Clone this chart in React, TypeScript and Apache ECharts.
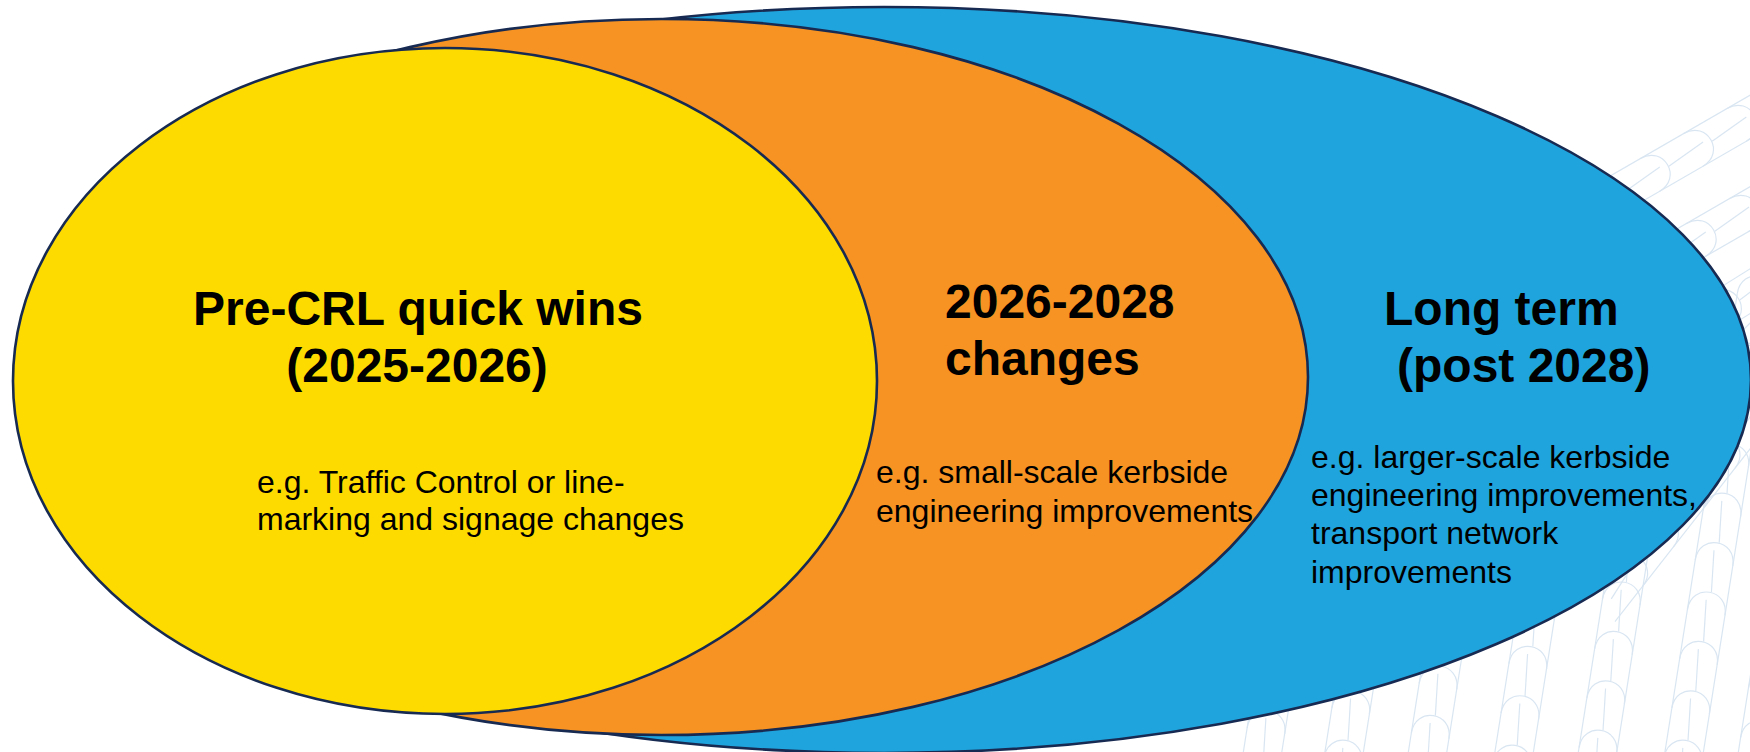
import React, { useEffect, useRef } from "react";
import * as echarts from "echarts";

// ---- content (back to front) ----
const stageIds = ["long", "mid", "quick"];
const stageTitles = [
  ["Long term", "(post 2028)"],
  ["2026-2028", "changes"],
  ["Pre-CRL quick wins", "(2025-2026)"],
];
const stageNotes = [
  ["e.g. larger-scale kerbside", "engineering improvements,", "transport network", "improvements"],
  ["e.g. small-scale kerbside", "engineering improvements"],
  ["e.g. Traffic Control or line-", "marking and signage changes"],
];

// ---- layout & style ----
const W = 1750;
const H = 752;
const ellipseLayout = [
  { cx: 884, cy: 380, rx: 867, ry: 373 },
  { cx: 661.5, cy: 377, rx: 646.5, ry: 358 },
  { cx: 445, cy: 381, rx: 432, ry: 333 },
];
const titleLayout = [
  { align: "left", xs: [1384, 1397], baselines: [325, 382] },
  { align: "left", xs: [945, 945], baselines: [318, 375] },
  { align: "center", xs: [418, 417], baselines: [325, 382] },
];
const noteLayout = [
  { x: 1311, baselines: [468, 506, 544, 583] },
  { x: 876, baselines: [483, 522] },
  { x: 257, baselines: [493, 530] },
];
const fills = ["#20A4DD", "#F69322", "#FDDB00"];
const STROKE = "#172A52";
const FAMILY = '"Liberation Sans", Arial, Helvetica, sans-serif';
const TITLE_SIZE = 48;
const NOTE_SIZE = 32;
const DECOR = "#D9E6F2";

// decorative ribbed tubes (background artwork)
const tubeLayout = [
  // bottom-right bundle, leaning slightly right
  { x: 1255, y: 800, tilt: 9, w: 38, len: 330, off: 10 },
  { x: 1335, y: 810, tilt: 9, w: 38, len: 380, off: 30 },
  { x: 1420, y: 800, tilt: 9, w: 38, len: 420, off: 5 },
  { x: 1505, y: 810, tilt: 9, w: 38, len: 470, off: 25 },
  { x: 1590, y: 800, tilt: 9, w: 38, len: 500, off: 0 },
  { x: 1675, y: 810, tilt: 9, w: 38, len: 520, off: 20 },
  { x: 1750, y: 800, tilt: 9, w: 38, len: 520, off: 10 },
  // upper-right bundle, pointing up-right
  { x: 1520, y: 250, tilt: 60, w: 38, len: 300, off: 0 },
  { x: 1540, y: 330, tilt: 60, w: 38, len: 300, off: 20 },
  { x: 1560, y: 410, tilt: 58, w: 38, len: 300, off: 10 },
  { x: 1580, y: 520, tilt: 45, w: 38, len: 300, off: 25 },
  { x: 1600, y: 610, tilt: 38, w: 38, len: 300, off: 5 },
];

function makeTube(t: any) {
  const hw = t.w / 2;
  const h = t.w * 0.55;
  const children: any[] = [
    { type: "line", shape: { x1: -hw, y1: 0, x2: -hw, y2: -t.len } },
    { type: "line", shape: { x1: hw, y1: 0, x2: hw, y2: -t.len } },
  ];
  for (let s = t.len; s > 0; s -= 50) {
    const yy = -(s - (s === t.len ? 0 : t.off));
    children.push({
      type: "bezierCurve",
      shape: { x1: -hw, y1: yy, x2: hw, y2: yy, cpx1: -hw, cpy1: yy - 1.3 * h, cpx2: hw, cpy2: yy - 1.3 * h },
    });
    children.push({
      type: "line",
      shape: { x1: -2, y1: yy - h * 0.6, x2: 2, y2: yy + h * 1.4 },
    });
  }
  children.forEach((c) => {
    c.style = { stroke: DECOR, lineWidth: 1.2, fill: null };
    c.silent = true;
  });
  return {
    type: "group",
    x: t.x,
    y: t.y,
    rotation: (-t.tilt * Math.PI) / 180,
    children,
    z: 0,
  };
}

export default function App() {
  const ref = useRef<HTMLDivElement>(null);

  useEffect(() => {
    if (!ref.current) return;
    const chart = echarts.init(ref.current, undefined, { renderer: "svg" });

    const renderItem = (params: any, api: any) => {
      const i = params.dataIndex;
      const e = ellipseLayout[i];
      const c = api.coord([e.cx, e.cy]);
      const sz = api.size([e.rx, e.ry]);
      const children: any[] = [
        {
          type: "ellipse",
          shape: { cx: c[0], cy: c[1], rx: sz[0], ry: sz[1] },
          style: { fill: fills[i], stroke: STROKE, lineWidth: 2.6 },
        },
      ];
      const tl = titleLayout[i];
      stageTitles[i].forEach((line, k) => {
        const p = api.coord([tl.xs[k], tl.baselines[k] - 0.3465 * TITLE_SIZE]);
        children.push({
          type: "text",
          x: p[0],
          y: p[1],
          style: {
            text: line,
            font: `bold ${TITLE_SIZE}px ${FAMILY}`,
            fill: "#000000",
            align: tl.align,
            verticalAlign: "middle",
          },
        });
      });
      const nl = noteLayout[i];
      stageNotes[i].forEach((line, k) => {
        const p = api.coord([nl.x, nl.baselines[k] - 0.3465 * NOTE_SIZE]);
        children.push({
          type: "text",
          x: p[0],
          y: p[1],
          style: {
            text: line,
            font: `${NOTE_SIZE}px ${FAMILY}`,
            fill: "#000000",
            align: "left",
            verticalAlign: "middle",
          },
        });
      });
      return { type: "group", children };
    };

    chart.setOption({
      animation: false,
      backgroundColor: "#ffffff",
      grid: { left: 0, right: 0, top: 0, bottom: 0 },
      xAxis: { type: "value", min: 0, max: W, show: false },
      yAxis: { type: "value", min: 0, max: H, inverse: true, show: false },
      graphic: tubeLayout.map(makeTube),
      series: [
        {
          type: "custom",
          name: "stages",
          clip: false,
          z: 5,
          renderItem,
          encode: { x: 0, y: 1 },
          data: stageIds.map((id, i) => ({ name: id, value: [ellipseLayout[i].cx, ellipseLayout[i].cy] })),
        },
      ],
    });

    return () => chart.dispose();
  }, []);

  return (
    <div
      ref={ref}
      style={{ position: "absolute", left: 0, top: 0, width: W, height: H, background: "#fff" }}
    />
  );
}
